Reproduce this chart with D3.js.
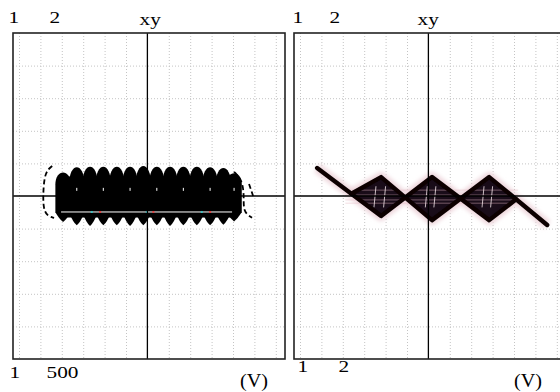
<!DOCTYPE html>
<html><head><meta charset="utf-8">
<script src="https://cdn.jsdelivr.net/npm/d3@7"></script>
<style>html,body{margin:0;padding:0;background:#fff;} svg{display:block;}</style>
</head><body><svg id="c" width="560" height="392"></svg>
<script>
// graticule, in screen divisions
const xDivs = d3.range(-6, 7);
const yDivs = d3.range(-4, 5);
const xDomain = [-6.28, 6.43];
const yDomain = [-5, 5];

// left screen: bead centres (div) with their upper and lower extents
const beadX = [-3.94, -3.30, -2.68, -2.06, -1.43, -0.81, -0.19, 0.44, 1.06, 1.68, 2.31, 2.93, 3.55, 4.05];
const beadTop = [0.72, 0.88, 0.90, 0.90, 0.90, 0.90, 0.92, 0.90, 0.90, 0.90, 0.90, 0.88, 0.86, 0.70];
const beadBottom = [-0.80, -0.90, -0.92, -0.90, -0.90, -0.92, -0.90, -0.90, -0.92, -0.90, -0.90, -0.90, -0.88, -0.78];
const bandCore = [0.60, -0.66];
const envLeft = [[-4.45, 0.92], [-4.78, 0.74], [-4.87, 0.18], [-4.87, -0.37], [-4.69, -0.61], [-4.36, -0.67]];
const envRight = [[4.05, 0.74], [4.43, 0.49], [4.52, 0.0], [4.47, -0.49], [4.89, -0.67]];
const envRightStub = [[4.75, 0.37], [4.94, 0.0]];
const seamY = -0.49;
const seamDots = [-2.60, -2.21, -0.03, 0.28, 2.54, 2.93];

// right screen: the two passes of the sweep (div)
const sweepA = [[-5.20, 0.86], [-3.60, 0.07], [-2.21, -0.61], [0.17, 0.58], [2.84, -0.74], [4.10, -0.10]];
const sweepB = [[-3.60, 0.07], [-2.21, 0.58], [0.17, -0.74], [2.84, 0.58], [4.10, -0.10], [5.55, -0.89]];
const hazeRows = [0.18, 0.03, -0.12, -0.22];
const scratchX = [-2.45, -2.0, -0.05, 0.35, 2.6, 3.0];

// labels
const topLabels = ["1", "2", "xy"];
const bottomLeftLabels = ["1", "500"];
const bottomRightLabels = ["1", "2"];
const unitLabel = "(V)";

const svg = d3.select("#c");
const W = 272, TOP = 33, H = 326;
const panelLefts = [13, 294];

const defs = svg.append("defs");
defs.append("filter").attr("id", "glow").attr("x", "-20%").attr("y", "-50%").attr("width", "140%").attr("height", "200%")
  .append("feGaussianBlur").attr("stdDeviation", 2.2);
defs.append("filter").attr("id", "soft")
  .append("feGaussianBlur").attr("stdDeviation", 0.5);

function makePanel(left, idx) {
  const x = d3.scaleLinear().domain(xDomain).range([left, left + W]);
  const y = d3.scaleLinear().domain(yDomain).range([TOP + H, TOP]);
  defs.append("clipPath").attr("id", "clip" + idx)
    .append("rect").attr("x", left).attr("y", TOP).attr("width", W).attr("height", H);
  const g = svg.append("g").attr("clip-path", `url(#clip${idx})`);
  // dotted graticule
  g.append("g").selectAll("line").data(xDivs.filter(d => d !== 0)).join("line")
    .attr("x1", d => x(d) + 0.5).attr("x2", d => x(d) + 0.5)
    .attr("y1", TOP).attr("y2", TOP + H)
    .attr("stroke", "#c4c4c4").attr("stroke-width", 1).attr("stroke-dasharray", "1,2");
  g.append("g").selectAll("line").data(yDivs.filter(d => d !== 0)).join("line")
    .attr("y1", d => y(d) + 0.5).attr("y2", d => y(d) + 0.5)
    .attr("x1", left).attr("x2", left + W)
    .attr("stroke", "#c4c4c4").attr("stroke-width", 1).attr("stroke-dasharray", "1,2");
  return { x, y, g };
}

function drawAxes(p, left) {
  p.g.append("line").attr("x1", p.x(0)).attr("x2", p.x(0)).attr("y1", TOP).attr("y2", TOP + H)
    .attr("stroke", "#000").attr("stroke-width", 1.3);
  p.g.append("line").attr("x1", left).attr("x2", left + W).attr("y1", p.y(0)).attr("y2", p.y(0))
    .attr("stroke", "#000").attr("stroke-width", 1.3);
  svg.append("rect").attr("x", left).attr("y", TOP).attr("width", W).attr("height", H)
    .attr("fill", "none").attr("stroke", "#222").attr("stroke-width", 1.6);
}

// ---- left screen ----
const L = makePanel(panelLefts[0], 0);
{
  const { x, y, g } = L;
  const bw = (x(0.36) - x(0));
  g.append("rect")
    .attr("x", x(beadX[0])).attr("width", x(beadX[beadX.length - 1]) - x(beadX[0]))
    .attr("y", y(bandCore[0])).attr("height", y(bandCore[1]) - y(bandCore[0]))
    .attr("fill", "#000");
  g.append("g").selectAll("path").data(beadX).join("path")
    .attr("fill", "#000")
    .attr("d", (d, i) => {
      const cx = x(d), yS = y(0.35), yT = y(beadTop[i]), yL = y(-0.5), yB = y(beadBottom[i]);
      const cy = yS + (yT - yS) / 0.75;
      return `M${cx - bw},${yS} C${cx - bw},${cy} ${cx + bw},${cy} ${cx + bw},${yS}` +
        ` L${cx + bw},${yL} Q${cx + bw * 0.5},${yB - 3} ${cx},${yB} Q${cx - bw * 0.5},${yB - 3} ${cx - bw},${yL} Z`;
    });
  // white seam through the lower half of the band
  g.append("line").attr("x1", x(beadX[0]) - 2).attr("x2", x(beadX[beadX.length - 1]) - 2)
    .attr("y1", y(seamY)).attr("y2", y(seamY)).attr("stroke", "#fff").attr("stroke-width", 1);
  g.append("g").selectAll("rect").data(seamDots).join("rect")
    .attr("x", d => x(d) - 1).attr("y", y(seamY) - 1).attr("width", 2).attr("height", 2)
    .attr("fill", (d, i) => i % 2 ? "#e04040" : "#40c0c0");
  // small bright specks inside the beads
  g.append("g").selectAll("rect").data(beadX.filter((d, i) => i % 2 === 1)).join("rect")
    .attr("x", d => x(d) - 0.5).attr("y", y(0.25)).attr("width", 1).attr("height", 3)
    .attr("fill", "#fff");
  // broken outline at both ends of the band
  const ln = d3.line().x(d => x(d[0])).y(d => y(d[1])).curve(d3.curveBasis);
  [envLeft, envRight, envRightStub].forEach(e => {
    g.append("path").attr("d", ln(e)).attr("fill", "none").attr("stroke", "#000")
      .attr("stroke-width", 1.8).attr("stroke-dasharray", "5,3");
  });
  drawAxes(L, panelLefts[0]);
}

// ---- right screen ----
const R = makePanel(panelLefts[1], 1);
{
  const { x, y, g } = R;
  const ln = d3.line().x(d => x(d[0])).y(d => y(d[1]));
  // pink halo around the trace
  [sweepA, sweepB].forEach(s => {
    g.append("path").attr("d", ln(s)).attr("fill", "none").attr("stroke", "#eed6dc")
      .attr("stroke-width", 10).attr("stroke-linejoin", "round").attr("filter", "url(#glow)");
  });
  // filled lozenges between the two passes
  const shared = sweepA.slice(1);
  const area = d3.area().x(d => x(d[0])).y0(d => y(d[1])).y1((d, i) => y(sweepB[i][1]));
  g.append("path").attr("d", area(shared)).attr("fill", "#120508").attr("fill-opacity", 0.95)
    .attr("fill-rule", "nonzero").attr("filter", "url(#soft)");
  // faint horizontal rows through the middle
  g.append("g").selectAll("line").data(hazeRows).join("line")
    .attr("x1", x(sweepA[1][0]) - 6).attr("x2", x(sweepA[5][0]) + 2)
    .attr("y1", d => y(d)).attr("y2", d => y(d))
    .attr("stroke", "#e6b7c2").attr("stroke-width", 1).attr("opacity", 0.45);
  // light scratches inside the lozenges
  g.append("g").selectAll("line").data(scratchX).join("line")
    .attr("x1", d => x(d)).attr("x2", d => x(d) - 2)
    .attr("y1", y(0.3)).attr("y2", y(-0.35))
    .attr("stroke", "#f4e6ea").attr("stroke-width", 1).attr("opacity", 0.8);
  // the two passes
  [sweepA, sweepB].forEach(s => {
    g.append("path").attr("d", ln(s)).attr("fill", "none").attr("stroke", "#0a0206")
      .attr("stroke-width", 4.4).attr("stroke-linejoin", "round").attr("stroke-linecap", "round")
      .attr("filter", "url(#soft)");
  });
  drawAxes(R, panelLefts[1]);
}

// ---- labels ----
const font = "'Liberation Serif', 'Times New Roman', serif";
function label(t, px, py, size, sx) {
  svg.append("text").text(t)
    .attr("transform", `translate(${px},${py}) scale(${sx},1)`)
    .attr("font-family", font).attr("font-size", size).attr("fill", "#000");
}
const topPos = [[[8.6, 23.3], [49.4, 23.3], [139.6, 25]], [[292.6, 22.7], [329.4, 22.7], [417.6, 25]]];
topPos.forEach(ps => ps.forEach((p, i) => label(topLabels[i], p[0], p[1], 16, 1.33)));
label(bottomLeftLabels[0], 9.6, 378.3, 16, 1.33);
label(bottomLeftLabels[1], 46.5, 378.3, 16, 1.33);
label(bottomRightLabels[0], 297.6, 372, 16, 1.33);
label(bottomRightLabels[1], 338.4, 372, 16, 1.33);
label(unitLabel, 240, 386.7, 18, 1.12);
label(unitLabel, 514, 387, 18, 1.12);
</script></body></html>
